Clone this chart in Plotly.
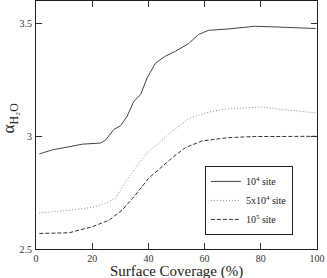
import plotly.graph_objects as go

# Surface coverage (%) and alpha values
x_a = [1.2, 5.9, 11.2, 16.5, 23.0, 24.8, 27.7, 30.1, 32.4, 34.8, 37.2, 39.5, 42.5, 46.0, 49.6,
       54.3, 57.8, 61.4, 68.4, 77.9, 85.0, 92.0, 99.5]
y_a = [2.922, 2.94, 2.952, 2.965, 2.97, 2.984, 3.03, 3.047, 3.088, 3.155, 3.184, 3.258, 3.324, 3.355, 3.377,
       3.411, 3.451, 3.47, 3.476, 3.488, 3.485, 3.481, 3.478]

x_b = [1.2, 11.8, 20.1, 24.8, 28.3, 31.9, 35.4, 38.9, 43.7, 48.4, 54.3, 60.2, 66.0, 73.1, 80.2, 87.3, 99.5]
y_b = [2.66, 2.672, 2.685, 2.703, 2.725, 2.799, 2.859, 2.918, 2.97, 3.021, 3.078, 3.103, 3.119, 3.125, 3.13, 3.119, 3.104]

x_c = [1.2, 11.8, 20.1, 26.0, 30.7, 35.4, 40.1, 44.8, 49.0, 53.1, 59.0, 68.4, 77.9, 87.3, 96.7, 99.5]
y_c = [2.569, 2.572, 2.599, 2.628, 2.673, 2.74, 2.814, 2.866, 2.91, 2.949, 2.979, 2.994, 2.999, 2.999, 2.999, 3.0]

names = ["10<sup>4</sup> site", "5x10<sup>4</sup> site", "10<sup>5</sup> site"]
x_ticks = [0, 20, 40, 60, 80, 100]
y_ticks = [2.5, 3, 3.5]
y_tick_labels = ["2.5", "3", "3.5"]
x_title = "Surface Coverage (%)"
y_title = "α<sub>H₂O</sub>"

SERIF = "Liberation Serif, Times New Roman, serif"

fig = go.Figure()
fig.add_trace(go.Scatter(x=x_a, y=y_a, mode="lines", name=names[0],
                         line=dict(color="#444444", width=1, dash="solid")))
fig.add_trace(go.Scatter(x=x_b, y=y_b, mode="lines", name=names[1],
                         line=dict(color="#8a8a8a", width=1, dash="1px,2px")))
fig.add_trace(go.Scatter(x=x_c, y=y_c, mode="lines", name=names[2],
                         line=dict(color="#333333", width=1, dash="4px,2px")))

axis_common = dict(showgrid=False, zeroline=False, showline=True, linecolor="#222222", linewidth=1,
                   mirror="ticks", ticks="inside", ticklen=6, tickcolor="#333333",
                   tickfont=dict(family=SERIF, size=10, color="#333333"),
                   automargin=False)

fig.update_layout(
    width=327, height=278,
    margin=dict(l=36, r=10, t=1, b=29),
    paper_bgcolor="white", plot_bgcolor="white",
    font=dict(family=SERIF, color="#222222"),
    xaxis=dict(range=[0, 100], tickvals=x_ticks, ticklabelstandoff=0, **axis_common),
    yaxis=dict(range=[2.5, 3.6], tickvals=y_ticks, ticktext=y_tick_labels, ticklabelstandoff=1,
               **axis_common),
    legend=dict(x=0.601, y=0.335, xanchor="left", yanchor="top",
                bgcolor="white", bordercolor="#222222", borderwidth=1,
                font=dict(family=SERIF, size=10, color="#222222"),
                itemwidth=30, tracegroupgap=0),
    showlegend=True,
    annotations=[
        dict(text=x_title, xref="paper", yref="paper", x=0.5, y=-0.09, xanchor="center", yanchor="middle",
             showarrow=False, font=dict(family=SERIF, size=15, color="#222222")),
        dict(text=y_title, xref="paper", yref="paper", x=-0.093, y=0.53, xanchor="center", yanchor="middle",
             textangle=-90, showarrow=False, font=dict(family=SERIF, size=17, color="#222222")),
    ],
)

fig.write_html("out.html", config={"displayModeBar": False},
               post_script="document.body.style.margin='0';")
